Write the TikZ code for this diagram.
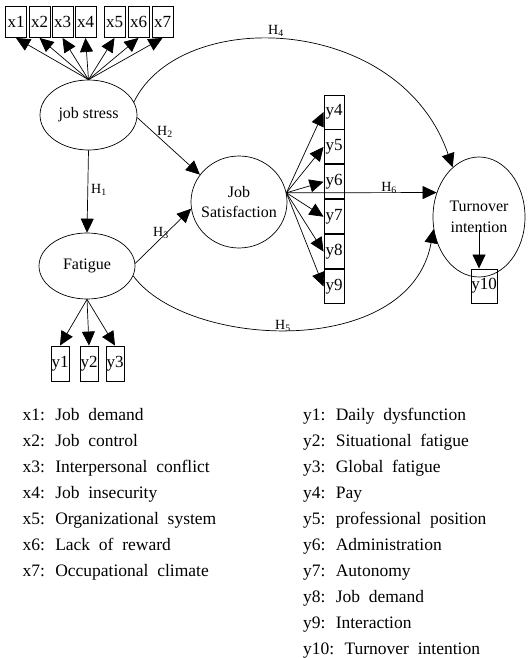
\documentclass[tikz,border=0pt]{standalone}
\usepackage{fontspec}
\setmainfont{Liberation Serif}
\newfontfamily\legendfont[WordSpace=2]{Liberation Serif}
\usetikzlibrary{arrows.meta,shapes.geometric,positioning}

\begin{document}
\begin{tikzpicture}[x=1pt, y=-1pt,
  every node/.style={font=\fontsize{16}{20.5}\selectfont},
  latent/.style={ellipse, draw, line width=0.7pt, inner sep=0pt, align=center},
  ind/.style={draw, line width=0.9pt, inner sep=0pt, minimum width=21pt,
              minimum height=31pt, font=\fontsize{17}{17}\selectfont},
  ybox/.style={ind, minimum width=20pt, minimum height=34pt},
  hyp/.style={font=\fontsize{14}{14}\selectfont, inner sep=0pt},
  legend/.style={anchor=base west, inner sep=0pt,
                 font=\legendfont\fontsize{17.5}{26}\selectfont},
  arr/.style={-{Triangle[length=14pt, width=13pt]}, line width=0.7pt},
]
\useasboundingbox (0,0) rectangle (527,658);

%% latent variables
\node[latent, minimum width=97pt, minimum height=70pt] (js) at (88.5,115) {job stress};
\node[latent, minimum width=96pt, minimum height=66pt] (fa) at (87,266) {Fatigue};
\node[latent, minimum width=96pt, minimum height=92pt, inner xsep=-10pt]
  (sat) at (239,202) {Job\\Satisfaction};
\node[latent, minimum width=92pt, minimum height=120pt]
  (to) at (479,217) {Turnover\\intention};

%% job stress indicators
\foreach \i/\cx in {1/16,2/39.5,3/62.5,4/85.5,5/114.5,6/138.5,7/162.5}
  \node[ind] (x\i) at (\cx,22) {x\i};
\foreach \i in {1,...,7}
  \draw[arr] (js.north) -- (x\i.south);

%% fatigue indicators
\foreach \i/\cx in {1/60,2/89,3/115}
  \node[ind, minimum width=18pt, minimum height=35pt] (y\i) at (\cx,363.5) {y\i};
\foreach \i in {1,2,3}
  \draw[arr] (fa.south) -- (y\i.north);

%% job satisfaction indicators (stacked column)
\node[ybox] (y4) at (334,112) {y4};
\foreach \i [remember=\i as \j (initially 4)] in {5,...,9}
  \node[ybox, below=0pt of y\j] (y\i) {y\i};
\coordinate (hub) at (sat.11);
\foreach \i in {4,...,9}
  \draw[arr] (hub) -- (y\i.west);

%% turnover indicator
\node[ind, minimum width=26pt, minimum height=34pt] (y10) at (484,286) {y10};
\draw[arr, shorten <=13pt] (to.center) -- (to.center |- y10.north);

%% hypothesised paths
\draw[arr] (js.south) -- (fa.north);
\draw[arr] (js.-3) -- (sat.145);
\draw[arr] (fa.3) -- (sat.188);
\draw[arr] (js.16) .. controls +(46.5,-96) and +(-52.8,-154) .. (to.118);
\draw[arr] (fa.-12) .. controls +(53.3,73) and +(-24,131) .. (to.195);
\draw[arr] (hub) -- (to.150);

\node[hyp] (h1) at (99,190) {H\textsubscript{1}};
\node[hyp] (h2) at (165,132) {H\textsubscript{2}};
\node[hyp] (h3) at (161,233) {H\textsubscript{3}};
\node[hyp] (h4) at (276,31) {H\textsubscript{4}};
\node[hyp] (h5) at (283,326) {H\textsubscript{5}};
\node[hyp] (h6) at (389,188) {H\textsubscript{6}};

%% legend
\foreach \i/\txt in {1/Job demand, 2/Job control, 3/Interpersonal conflict,
    4/Job insecurity, 5/Organizational system, 6/Lack of reward,
    7/Occupational climate}
  \node[legend] (lx\i) at (22.5,{420+26*(\i-1)}) {x\i: \txt};
\foreach \i/\txt in {1/Daily dysfunction, 2/Situational fatigue,
    3/Global fatigue, 4/Pay, 5/professional position, 6/Administration,
    7/Autonomy, 8/Job demand, 9/Interaction, 10/Turnover intention}
  \node[legend] (ly\i) at (303,{420+26*(\i-1)}) {y\i: \txt};

\end{tikzpicture}
\end{document}
